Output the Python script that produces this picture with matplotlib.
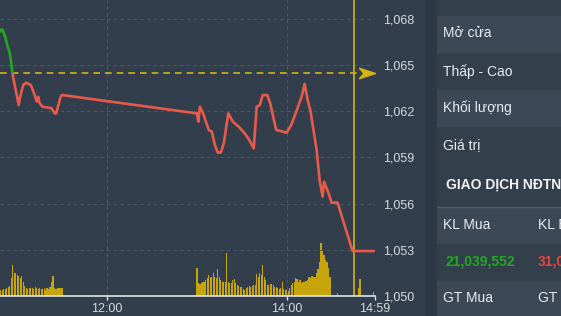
import numpy as np
import matplotlib.pyplot as plt
from matplotlib.path import Path
from matplotlib.patches import Rectangle

plt.rcParams['font.family'] = ['Liberation Sans', 'DejaVu Sans']

# Diễn biến giá (giờ, điểm)
gia_gio = ["10:48", "10:49", "10:50", "10:52", "10:53", "10:55", "10:56", "10:57", "10:59",
           "11:01", "11:02", "11:04", "11:06", "11:09", "11:10", "11:12", "11:13", "11:14",
           "11:15", "11:17", "11:20", "11:23", "11:25", "11:26", "11:29", "11:30",
           "13:00", "13:01", "13:02", "13:04", "13:08", "13:10", "13:12", "13:14", "13:16",
           "13:18", "13:21", "13:24", "13:28", "13:32", "13:35", "13:38", "13:40", "13:42",
           "13:44", "13:47", "13:49", "13:51", "13:53", "13:56", "14:00", "14:03", "14:06",
           "14:10", "14:12", "14:14", "14:16", "14:20", "14:22", "14:24", "14:25", "14:28",
           "14:30", "14:34", "14:44", "14:58"]
gia_diem = [1067.10, 1067.27, 1067.32, 1066.84, 1066.41, 1065.78, 1065.13, 1064.35, 1063.38,
            1062.40, 1062.94, 1063.70, 1063.85, 1063.70, 1063.49, 1062.94, 1062.62, 1062.94,
            1062.51, 1062.29, 1062.25, 1062.19, 1061.86, 1061.86, 1062.94, 1063.05,
            1061.86, 1061.32, 1062.29, 1061.90, 1060.78, 1060.67, 1059.81, 1059.31, 1059.31,
            1059.92, 1061.86, 1061.32, 1060.99, 1060.56, 1060.13, 1059.59, 1062.29, 1062.40,
            1063.05, 1063.05, 1062.51, 1061.64, 1060.78, 1060.71, 1060.60, 1061.10, 1061.86,
            1062.94, 1063.77, 1062.73, 1061.97, 1059.48, 1057.53, 1056.45, 1057.42, 1056.67,
            1056.06, 1056.06, 1052.92, 1052.92]

# Khối lượng khớp theo phút (đơn vị tương đối)
kl_sang_bat_dau = "10:49"
kl_sang = [6, 6, 7, 7, 8, 9, 10, 18, 31, 23, 23, 21, 20, 18, 20, 14, 10, 8, 7, 8, 8,
           8, 7, 9, 8, 7, 8, 7, 7, 8, 6, 8, 7, 9, 14, 20, 8, 7, 8, 8, 8, 8]
kl_chieu_bat_dau = "13:00"
kl_chieu = [27.7, 12.7, 12, 13.3, 14.3, 14.3, 16, 17.7, 21, 18.7,
            19.3, 23.3, 19.3, 17.7, 26.7, 19.3, 16, 14.3, 14.3, 14.3,
            43.3, 14.3, 13.3, 13.3, 16, 16.7, 12.7, 11, 10, 8.7,
            8.7, 6.7, 6, 7.7, 8.7, 10, 9.3, 10, 11, 11,
            22, 19.3, 23.3, 21, 31, 19.3, 16, 11, 11, 12,
            12, 11, 9.3, 8.7, 7.7, 6.7, 7.7, 14.3, 6.7, 6,
            6, 5.3, 7.7, 11, 12.7, 14.3, 17.7, 16.7, 14.3, 16,
            13.3, 14.3, 14.3, 15.3, 16, 19.3, 17.7, 20, 19.3, 19.3,
            22.7, 26.7, 34.3, 52.7, 46, 41, 36, 34.3, 27.7, 19.3]
kl_le_gio = ["14:34", "14:48", "14:49", "14:58"]
kl_le = [2.7, 8, 17, 4]

gia_tham_chieu = 1064.48
gio_hien_tai = "14:45"
muc_gia = [1050, 1053, 1056, 1059, 1062, 1065, 1068]
nhan_gio = ["12:00", "14:00", "14:59"]

# Bảng thông tin bên phải
bang_nhan = ["Mở cửa", "Thấp - Cao", "Khối lượng", "Giá trị"]
tieu_de_nn = "GIAO DỊCH NĐTNN"
nn_cot1 = ["KL Mua", "21,039,552", "GT Mua"]
nn_cot2 = ["KL Bán", "31,068,410", "GT Bán"]

nen = '#323e4b'
vang = '#d4b417'
do = '#ea5a4b'
xanh = '#22a822'


def phut(s):
    h, m = s.split(':')
    return int(h) * 60 + int(m)


W, H = 561, 316


def khung(x0, y0, x1, y1):
    return [x0 / W, 1 - y1 / H, (x1 - x0) / W, (y1 - y0) / H]


fig = plt.figure(figsize=(W / 100, H / 100), dpi=100)
fig.patch.set_facecolor(nen)

ax_kl = fig.add_axes(khung(0, 0, 375, 296))
ax = fig.add_axes(khung(0, 0, 375, 296), sharex=ax_kl)
ax_kl.set_facecolor(nen)
ax.set_facecolor('none')
ax_kl.axis('off')

x0 = phut("10:48") + 0.5
x1 = phut("14:59")
ax.set_xlim(x0, x1)
ax.set_ylim(1050, 1050 + 296 / 15.4)
ax_kl.set_ylim(0, 296)

# Cột khối lượng
t_sang = phut(kl_sang_bat_dau) + np.arange(len(kl_sang))
t_chieu = phut(kl_chieu_bat_dau) + np.arange(len(kl_chieu))
t_le = [phut(s) for s in kl_le_gio]
for t, v in [(t_sang, kl_sang), (t_chieu, kl_chieu), (t_le, kl_le)]:
    ax_kl.bar(t, v, width=0.88, color='#c6a50a', linewidth=0)

# Đường giá: xanh trên tham chiếu, đỏ dưới tham chiếu
t_gia = [phut(s) for s in gia_gio]
duong_do, = ax.plot(t_gia, gia_diem, color=do, lw=1.9, solid_joinstyle='round', zorder=3)
duong_xanh, = ax.plot(t_gia, gia_diem, color=xanh, lw=1.9, solid_joinstyle='round', zorder=3)
duong_do.set_clip_path(Rectangle((x0 - 10, 1000), 400, gia_tham_chieu - 1000, transform=ax.transData))
duong_xanh.set_clip_path(Rectangle((x0 - 10, gia_tham_chieu), 400, 100, transform=ax.transData))

# Giá tham chiếu và con trỏ thời gian
ax.plot([x0, phut("14:49")], [gia_tham_chieu, gia_tham_chieu], color=vang, lw=1.2, dashes=(4, 3), zorder=2)
mui_ten = Path([(1, 0), (-1, 0.65), (-0.45, 0), (-1, -0.65), (1, 0)],
               [Path.MOVETO, Path.LINETO, Path.LINETO, Path.LINETO, Path.CLOSEPOLY])
ax.plot(x1 - 5.3, gia_tham_chieu, marker=mui_ten, markersize=11.5, color=vang, lw=0, clip_on=False, zorder=4)
ax.axvline(phut(gio_hien_tai), color=vang, lw=1.2, zorder=2)

# Trục và lưới
ax.set_yticks(muc_gia)
ax.set_yticklabels([f"{v:,}" for v in muc_gia])
ax.set_xticks([phut(s) for s in nhan_gio])
ax.set_xticklabels(nhan_gio)
ax.yaxis.tick_right()
ax.grid(True, color='#4b5765', linestyle=(0, (3, 3)), linewidth=0.8)
for s in ['top', 'left', 'right']:
    ax.spines[s].set_visible(False)
ax.spines['bottom'].set_color('#e2e5e8')
ax.spines['bottom'].set_linewidth(1.2)
ax.tick_params(axis='y', length=0, pad=6, labelsize=9, labelcolor='#d5d9dd')
ax.tick_params(axis='x', length=3, width=1, color='#e2e5e8', pad=2, labelsize=9, labelcolor='#d5d9dd')

# Bảng bên phải
pax = fig.add_axes(khung(425, 0, 561, 316))
pax.set_xlim(425, 561)
pax.set_ylim(316, 0)
pax.axis('off')
pax.add_patch(Rectangle((425, 0), 136, 316, color='#2e3945'))
sang, toi = '#3c4856', '#343f4c'
hang = [(0, 16, toi), (16, 53, sang), (53, 90, toi), (90, 127, sang), (127, 164, toi),
        (164, 206, toi), (207, 244, sang), (244, 281, toi), (281, 316, sang)]
for a, b, c in hang:
    pax.add_patch(Rectangle((437, a), 124, b - a, color=c))
pax.plot([437, 561], [206.5, 206.5], color='#4c5867', lw=1)

for i, nhan in enumerate(bang_nhan):
    pax.text(443, [33, 72, 108, 145][i], nhan, color='#e8ebee', fontsize=10, va='center')
pax.text(446, 185, tieu_de_nn, color='#f0f2f4', fontsize=10, fontweight='bold', va='center')
for i, y in enumerate([225, 262, 298]):
    dam = 'bold' if i == 1 else 'normal'
    pax.text(443 if i != 1 else 445, y, nn_cot1[i], color=xanh if i == 1 else '#e8ebee',
             fontsize=10, fontweight=dam, va='center')
    pax.text(538, y, nn_cot2[i], color='#e0473c' if i == 1 else '#e8ebee',
             fontsize=10, fontweight=dam, va='center')

plt.savefig('out.png', dpi=100, facecolor=fig.get_facecolor())
